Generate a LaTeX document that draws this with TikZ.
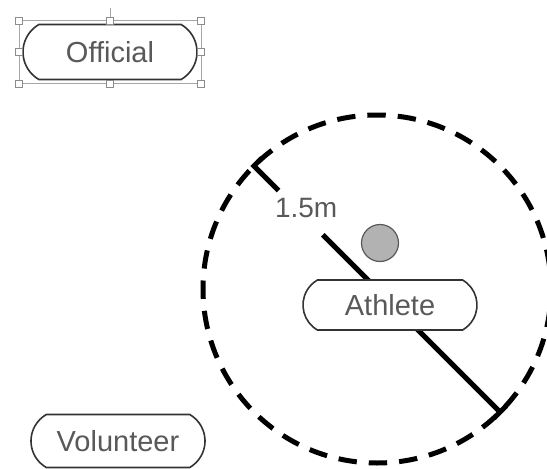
\documentclass[tikz,border=0pt]{standalone}
\usepackage{fontspec}
\setmainfont{Liberation Sans}
\usetikzlibrary{calc,fit,shapes.misc}

\begin{document}
\begin{tikzpicture}[
    x=1pt, y=-1pt,
    role/.style={
      rounded rectangle,
      rounded rectangle arc length=120,
      draw=black!80,
      fill=white,
      line width=1.6pt,
      text=black!65,
      inner sep=0pt,
      minimum width=174pt,
      minimum height=53pt,
      font=\fontsize{29}{32}\selectfont
    },
    zone/.style={
      circle,
      draw=black,
      line width=5pt,
      dash pattern=on 18.4pt off 12pt,
      dash phase=9pt,
      minimum size=348pt,
      inner sep=0pt,
      outer sep=0pt
    },
    ball/.style={circle, draw=black!65, fill=black!30, line width=1.2pt, minimum size=37pt, inner sep=0pt},
    dimline/.style={draw=black, line width=5pt},
    lbl/.style={text=black!65, font=\fontsize{28}{30}\selectfont, inner sep=0pt},
    selbox/.style={draw=black!35, line width=0.6pt, inner sep=3pt},
    handle/.style={draw=black!45, fill=white, line width=0.6pt}
  ]
  \useasboundingbox (0,0) rectangle (547,469);

  % distance zone round the athlete
  \node[zone] (zone) at (377,289) {};
  \node[ball] (ball) at (380,243) {};

  \draw[dimline] ($(zone.135)+(8,-8)$) -- (zone.135) -- ($(zone.135)!0.1!(zone.-45)$);
  \draw[dimline] ($(zone.135)!0.28!(zone.-45)$) -- (zone.-45);
  \draw[dimline] ($(zone.-45)+(-6,6)$) -- ($(zone.-45)+(6,-6)$);
  \node[lbl] (dist) at ($(zone.135)!0.2!(zone.-45)+(3,-7)$) {1.5m};

  \node[role, minimum height=50pt] (athlete) at (390,305) {Athlete};
  \node[role, minimum height=55pt] (official) at (110,52) {Official};
  \node[role] (volunteer) at (118,441) {Volunteer};

  % selection frame on the official
  \node[selbox, fit=(official)] (sel) {};
  \draw[selbox] ($(sel.north)+(0,-3.5)$) -- ++(0,-9);
  \foreach \a in {north west, north, north east, east, south east, south, south west, west}
    \draw[handle] ($(sel.\a)+(-3.5,-3.5)$) rectangle ++(7,7);

\end{tikzpicture}
\end{document}
